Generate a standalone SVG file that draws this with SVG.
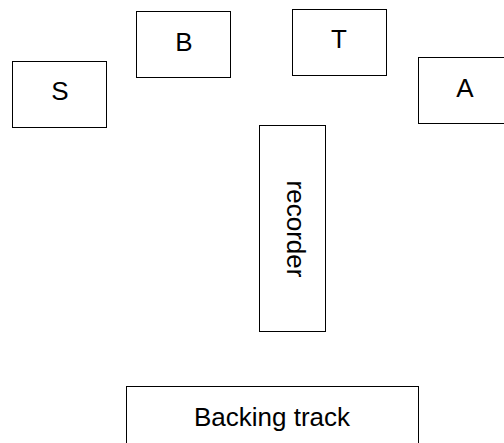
<svg xmlns="http://www.w3.org/2000/svg" width="504" height="443" viewBox="0 0 504 443">
<style>
.box{fill:#fff;stroke:#000;stroke-width:1}
.lbl{font-family:"Liberation Sans",Arial,sans-serif;font-size:26px;fill:#000;text-anchor:middle}
</style>
<rect width="504" height="443" fill="#fff"/>
<g id="connectors"></g>
<g id="node-S">
<rect class="box" x="12.5" y="61.5" width="94" height="66"/>
<text class="lbl" x="60" y="100">S</text>
</g>
<g id="node-B">
<rect class="box" x="136.5" y="11.5" width="94" height="66"/>
<text class="lbl" x="184" y="51">B</text>
</g>
<g id="node-T">
<rect class="box" x="292.5" y="9.5" width="94" height="66"/>
<text class="lbl" x="339" y="48">T</text>
</g>
<g id="node-A">
<rect class="box" x="418.5" y="57.5" width="94" height="66"/>
<text class="lbl" x="465" y="97">A</text>
</g>
<g id="node-recorder">
<rect class="box" x="259.5" y="125.5" width="66" height="206"/>
<text class="lbl" transform="translate(287,229) rotate(90)" x="0" y="0">recorder</text>
</g>
<g id="node-backing">
<rect class="box" x="126.5" y="386.5" width="292" height="70"/>
<text class="lbl" x="272" y="426">Backing track</text>
</g>
</svg>
